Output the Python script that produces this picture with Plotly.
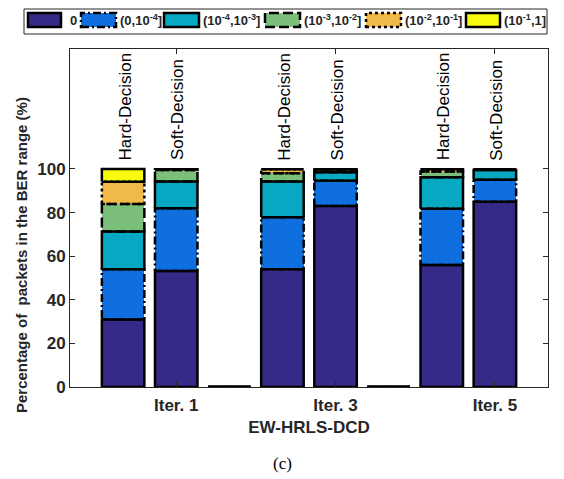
import plotly.graph_objects as go

# ---------------- data ----------------
positions = [1, 2, 3, 4, 5, 6, 7, 8]
decision_labels = ["Hard-Decision", "Soft-Decision", "", "Hard-Decision", "Soft-Decision", "",
                   "Hard-Decision", "Soft-Decision"]
iter_ticks = [2, 5, 8]
iter_labels = ["Iter. 1", "Iter. 3", "Iter. 5"]

ber_names = ["0", "(0,10<sup>-4</sup>]", "(10<sup>-4</sup>,10<sup>-3</sup>]",
             "(10<sup>-3</sup>,10<sup>-2</sup>]", "(10<sup>-2</sup>,10<sup>-1</sup>]",
             "(10<sup>-1</sup>,1]"]
ber_0 = [31.0, 53.2, 0, 54.0, 83.0, 0, 56.0, 85.0]
ber_1 = [23.0, 28.8, 0, 23.8, 11.6, 0, 25.7, 10.0]
ber_2 = [17.3, 12.2, 0, 16.4, 3.9, 0, 14.5, 4.5]
ber_3 = [12.6, 5.3, 0, 3.8, 1.2, 0, 2.6, 0.3]
ber_4 = [10.2, 0.4, 0, 1.8, 0.2, 0, 1.0, 0.1]
ber_5 = [5.9, 0.1, 0, 0.2, 0.1, 0, 0.2, 0.1]
series = [ber_0, ber_1, ber_2, ber_3, ber_4, ber_5]

# ---------------- styles ----------------
colors = ["#352a87", "#0f6fde", "#07a9c2", "#7cbf7b", "#f0b949", "#f9fb0e"]
dashes = ["solid", "8px,3px,2px,3px", "solid", "10px,4px", "3px,3px", "solid"]
bar_w = 0.8
edge_w = 2.5
FONT = "Liberation Sans, Arial, sans-serif"

OFF = 8  # default page margin of the html body
W, H = 564 - OFF, 479 - OFF
ML, MR, MT, MB = 70 - OFF, 16, 49 - OFF, 92
PW, PH = W - ML - MR, H - MT - MB


def px_x(p):
    return (p - OFF - ML) / PW


def px_y(p):
    return (H - MB - (p - OFF)) / PH


fig = go.Figure()

# filled stacked bars
for name, vals, col in zip(ber_names, series, colors):
    fig.add_trace(go.Bar(x=positions, y=vals, width=bar_w, name=name,
                         marker=dict(color=col, line=dict(width=0)),
                         showlegend=False, hoverinfo="skip"))

# outlines of every segment (computed from the stacked values)
base = [0.0] * len(positions)
for vals, dash in zip(series, dashes):
    xs, ys = [], []
    for i, p in enumerate(positions):
        b, t = base[i], base[i] + vals[i]
        x0, x1 = p - bar_w / 2, p + bar_w / 2
        xs += [x0, x1, x1, x0, x0, None]
        ys += [b, b, t, t, b, None]
        base[i] = t
    fig.add_trace(go.Scatter(x=xs, y=ys, mode="lines",
                             line=dict(color="black", width=edge_w, dash=dash),
                             showlegend=False, hoverinfo="skip"))

# vertical decision labels above the bars
for p, lab in zip(positions, decision_labels):
    if lab:
        fig.add_annotation(x=p, y=103, xref="x", yref="y", text=lab, textangle=-90,
                           showarrow=False, xanchor="center", yanchor="bottom", xshift=2,
                           font=dict(family=FONT, size=17, color="black"))

# ---------------- custom legend ----------------
shapes = []
shapes.append(dict(type="rect", xref="paper", yref="paper",
                   x0=px_x(24), x1=px_x(547), y0=px_y(34), y1=px_y(9),
                   line=dict(color="#262626", width=1), fillcolor="white"))
leg_items = [(28, 61, 68), (81, 116, 118), (164, 199, 201),
             (265, 300, 302), (366, 401, 403), (466, 500, 502)]
for (sx0, sx1, tx), name, col, dash in zip(leg_items, ber_names, colors, dashes):
    shapes.append(dict(type="rect", xref="paper", yref="paper",
                       x0=px_x(sx0), x1=px_x(sx1), y0=px_y(27), y1=px_y(13),
                       fillcolor=col, line=dict(color="black", width=edge_w, dash=dash)))
    fig.add_annotation(x=px_x(tx), y=px_y(20.5), xref="paper", yref="paper",
                       text="<b>" + name + "</b>", showarrow=False,
                       xanchor="left", yanchor="middle",
                       font=dict(family=FONT, size=13, color="#262626"))

# y-axis title
fig.add_annotation(x=px_x(21), y=px_y(255), xref="paper", yref="paper",
                   text="<b>Percentage of  packets in the BER range (%)</b>",
                   textangle=-90, showarrow=False, xanchor="center", yanchor="middle",
                   font=dict(family=FONT, size=15, color="#262626"))
# sub-figure caption
fig.add_annotation(x=px_x(282), y=px_y(463), xref="paper", yref="paper",
                   text="(c)", showarrow=False, xanchor="center", yanchor="middle",
                   font=dict(family="Liberation Serif, Times New Roman, serif", size=17,
                             color="black"))

fig.update_layout(
    width=W, height=H,
    margin=dict(l=ML, r=MR, t=MT, b=MB, pad=0),
    barmode="stack",
    plot_bgcolor="white", paper_bgcolor="white",
    shapes=shapes,
    font=dict(family=FONT, size=17, color="#262626"),
)
fig.update_xaxes(range=[0, 9], tickmode="array", tickvals=iter_ticks,
                 ticktext=["<b>" + t + "</b>" for t in iter_labels],
                 ticks="inside", ticklen=5, tickcolor="#262626", tickwidth=1,
                 showline=True, linecolor="#262626", linewidth=1, mirror="ticks",
                 showgrid=False, zeroline=False, ticklabelstandoff=3,
                 tickfont=dict(family=FONT, size=17, color="#262626"),
                 title=dict(text="<b>EW-HRLS-DCD</b>", standoff=6,
                            font=dict(family=FONT, size=17, color="#262626")))
fig.update_yaxes(range=[0, 155], tickmode="array", tickvals=[0, 20, 40, 60, 80, 100],
                 ticktext=["<b>%d</b>" % v for v in [0, 20, 40, 60, 80, 100]],
                 ticks="inside", ticklen=5, tickcolor="#262626", tickwidth=1,
                 showline=True, linecolor="#262626", linewidth=1, mirror="ticks",
                 showgrid=False, zeroline=False,
                 tickfont=dict(family=FONT, size=17, color="#262626"))

fig.write_html("out.html")
